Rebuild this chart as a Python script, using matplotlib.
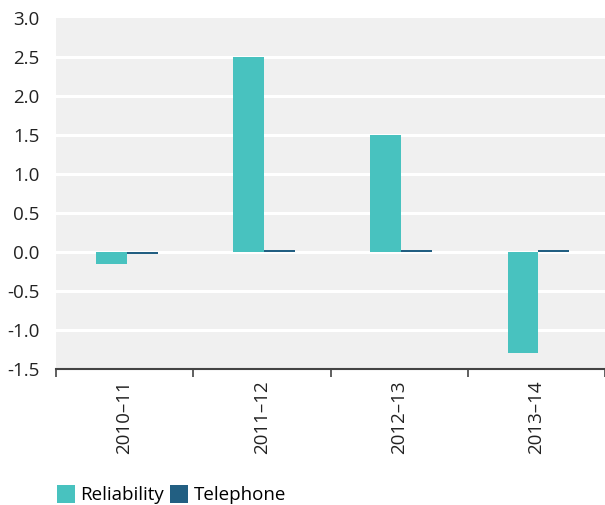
import matplotlib.pyplot as plt
import numpy as np

years = ["2010\u201311", "2011\u201312", "2012\u201313", "2013\u201314"]
reliability = [-0.15, 2.5, 1.5, -1.3]
telephone = [-0.03, 0.03, 0.03, 0.03]

plt.rcParams["font.family"] = ["Open Sans", "DejaVu Sans"]

fig = plt.figure(figsize=(6.05, 5.05), dpi=100)
ax = fig.add_axes([56 / 605, 1 - 369 / 505, 549 / 605, 351 / 505])
ax.set_facecolor("#f0f0f0")

x = np.arange(len(years)) + 0.015
width = 0.225
ax.bar(x - width / 2, reliability, width, color="#48c2bf", label="Reliability", zorder=3)
ax.bar(x + width / 2, telephone, width, color="#225f82", label="Telephone", zorder=3)

ax.set_xlim(-0.5, len(years) - 0.5)
ax.set_ylim(-1.5, 3.0)
yt = np.arange(-1.5, 3.01, 0.5)
ax.set_yticks(yt)
ax.set_yticklabels([f"{v:.1f}" for v in yt], fontsize=13.5, color="#222222")
for y in np.arange(-1.0, 2.51, 0.5):
    ax.axhline(y, color="white", lw=2.2, zorder=1)
ax.axhline(0, color="white", lw=2.2, zorder=2)

# category labels at the centres, tick marks at the boundaries
ax.set_xticks(np.arange(len(years)))
ax.set_xticklabels(years, rotation=90, fontsize=13.5, color="#222222")
ax.tick_params(axis="x", which="major", length=0, pad=8)
ax.set_xticks(np.arange(-0.5, len(years), 1.0), minor=True)
ax.tick_params(axis="x", which="minor", length=6, width=1.2, color="#444444", direction="out")
ax.tick_params(axis="y", length=0, pad=12)

for side in ["left", "right", "top"]:
    ax.spines[side].set_visible(False)
ax.spines["bottom"].set_color("#444444")
ax.spines["bottom"].set_linewidth(1.5)

fig.legend(loc="lower left", bbox_to_anchor=(44 / 605, -0.024), ncol=2, frameon=False,
           fontsize=13.5, handlelength=0.95, handleheight=1.1, handletextpad=0.3,
           columnspacing=0.3, borderaxespad=0.3)

fig.savefig("out.png", dpi=100)
